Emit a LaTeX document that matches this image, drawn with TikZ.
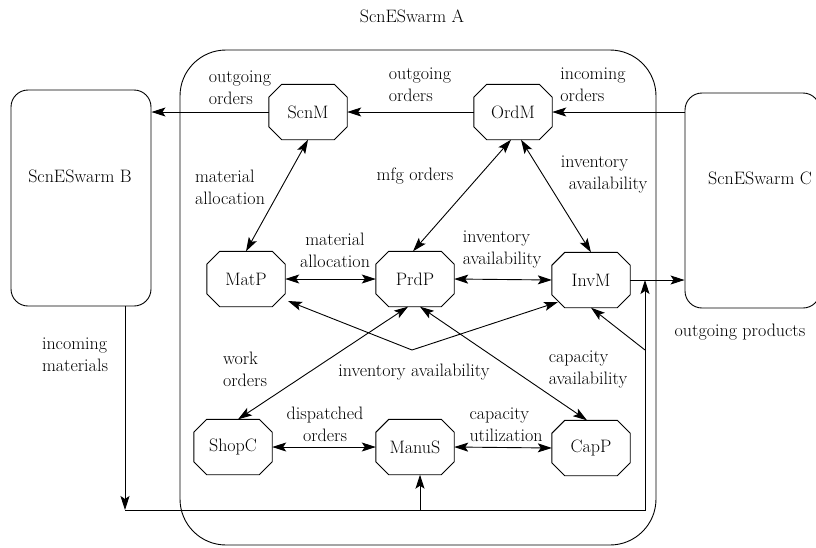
\documentclass[tikz,border=0pt]{standalone}
\usetikzlibrary{arrows.meta,calc}
\begin{document}
\begin{tikzpicture}[x=1pt,y=-1pt,
  every node/.style={font=\fontsize{18}{22}\selectfont},
  oct/.style={minimum width=78pt,minimum height=55pt,inner sep=0pt},
  lbl/.style={align=left,inner sep=0pt},
  clbl/.style={align=center,inner sep=0pt},
  tip/.tip={Stealth[length=14pt,width=9pt,inset=3pt]},
  arr/.style={line width=0.9pt,-tip},
  darr/.style={line width=0.9pt,tip-tip},
  box/.style={draw,line width=0.9pt,rounded corners=17pt,inner sep=0pt}]
\useasboundingbox (0,0) rectangle (816,547);
\begin{scope}
\clip (0,0) rectangle (816,547);
% swarm boxes
\node[draw,line width=0.9pt,rounded corners=46pt,minimum width=476pt,minimum height=495pt,inner sep=0pt] (A) at (418,297.5) {};
\node[box,minimum width=140pt,minimum height=216pt] (B) at (81,198) {};
\node[box,minimum width=135pt,minimum height=215pt] (C) at (752.5,200.5) {};
\end{scope}
\node (tA) at (412,16) {ScnESwarm A};
\node (tB) at (80,176) {ScnESwarm B};
\node (tC) at (760,178) {ScnESwarm C};
% agents
\node[oct] (ScnM) at (308,112) {ScnM};
\node[oct] (OrdM) at (513,112) {OrdM};
\node[oct] (MatP) at (246,279) {MatP};
\node[oct] (PrdP) at (415,279) {PrdP};
\node[oct] (InvM) at (591,280) {InvM};
\node[oct] (ShopC) at (233,447) {ShopC};
\node[oct] (ManuS) at (415,447) {ManuS};
\node[oct] (CapP) at (591,448) {CapP};
\foreach \n in {ScnM,OrdM,MatP,PrdP,InvM,ShopC,ManuS,CapP}
  \draw[line width=0.9pt] ([xshift=13pt]\n.north west) -- ([xshift=-13pt]\n.north east)
    -- ([yshift=-13pt]\n.north east) -- ([yshift=13pt]\n.south east)
    -- ([xshift=-13pt]\n.south east) -- ([xshift=13pt]\n.south west)
    -- ([yshift=13pt]\n.south west) -- ([yshift=-13pt]\n.north west) -- cycle;
% connectors
\draw[arr] (ScnM.west) -- (ScnM.west -| B.east);
\draw[arr] (OrdM.west) -- (ScnM.east);
\draw[arr] (OrdM.east -| C.west) -- (OrdM.east);
\draw[darr] (ScnM.south) -- (MatP.north);
\draw[darr] ([xshift=-2pt]OrdM.south) -- ([xshift=-2pt]PrdP.north);
\draw[darr] ([xshift=8pt]OrdM.south) -- (InvM.north);
\draw[darr] (MatP.east) -- (PrdP.west);
\draw[darr] (PrdP.east) -- (InvM.west);
\coordinate (m1) at (412,350);
\draw[darr] ([xshift=42pt,yshift=-22pt]MatP.center) -- (m1) -- ([xshift=-33pt,yshift=-22pt]InvM.center);
\draw[darr] ([xshift=-7pt]PrdP.south) -- ([xshift=5pt]ShopC.north);
\draw[darr] ([xshift=5pt]PrdP.south) -- ([xshift=-4pt]CapP.north);
\draw[darr] (ShopC.east) -- (ManuS.west);
\draw[darr] (ManuS.east) -- (CapP.west);
\coordinate (f1) at (125,510);
\coordinate (f2) at (645,510);
\coordinate (f3) at (645,350);
\coordinate (f4) at (420,510);
\draw[arr] (B.south -| f1) -- (f1);
\draw[arr] (f1) -- (f2) -- (InvM.east -| f2);
\draw[arr] (f4) -- (f4 |- ManuS.south);
\draw[arr] (f3) -- (InvM.south);
\draw[arr] (InvM.east) -- (InvM.east -| C.west);
% labels
\node[lbl] (l1) at (240,88) {outgoing\\orders};
\node[lbl] (l2) at (420,85) {outgoing\\orders};
\node[lbl] (l3) at (593,85) {incoming\\orders};
\node[lbl] (l4) at (230,187) {material\\allocation};
\node[clbl] (l5) at (415,176) {mfg orders};
\node[lbl] (l6) at (604,175) {inventory\\\hspace*{8pt}availability};
\node[clbl] (l7) at (335,250) {material\\allocation};
\node[lbl] (l8) at (502,250) {inventory\\availability};
\node[lbl] (l9) at (245,369) {work\\orders};
\node[clbl] (l10) at (414,372) {inventory availability};
\node[lbl] (l11) at (588,370) {capacity\\availability};
\node[clbl] (l12) at (325,424) {dispatched\\orders};
\node[lbl] (l13) at (506,425) {capacity\\utilization};
\node[lbl] (l14) at (75,355) {incoming\\materials};
\node[clbl] (l15) at (740,332) {outgoing products};
\end{tikzpicture}
\end{document}
